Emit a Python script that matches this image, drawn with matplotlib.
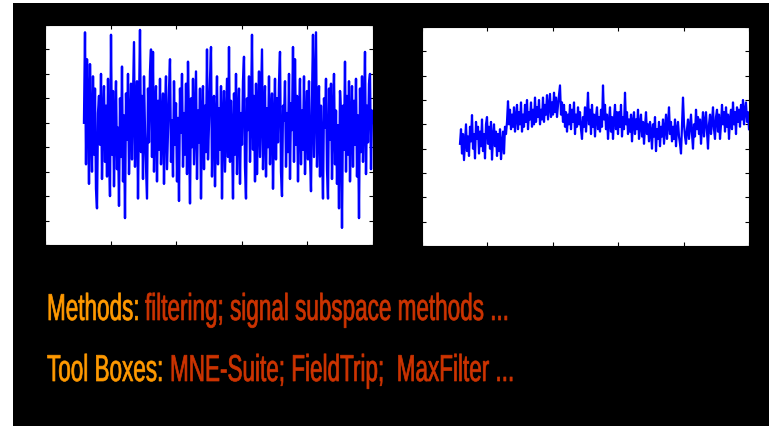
import matplotlib
matplotlib.use("Agg")
import matplotlib.pyplot as plt
from matplotlib.patches import Rectangle
from matplotlib.patheffects import AbstractPathEffect
from matplotlib.transforms import Affine2D
import numpy as np

W, H = 769, 427

# raw trace, left panel (one sample per step, starts part-way into the window)
left_values = [
    0.5, 4.2, -1.2, 3.1, 1.5, -2.0, 2.9, 0.2, -1.5, 2.4,
    -0.8, 1.9, -2.2, -3.0, 0.9, 1.6, -0.4, 2.5, -1.8, 0.7,
    2.0, -1.1, 1.2, -1.7, 2.3, -0.5, -2.5, 4.1, -0.8, 1.8,
    -2.1, 0.6, 2.2, -1.4, 0.3, -2.9, 1.5, -0.9, 2.8, -1.9,
    0.8, -3.4, 1.7, -0.2, 2.5, -1.6, 0.4, 2.1, -1.0, 1.3,
    3.8, -1.3, 0.9, 2.2, -2.6, 1.1, 4.3, -0.7, 1.6, -1.8,
    2.4, 0.1, -1.2, -2.6, 1.9, -0.3, 2.6, 3.5, -0.9, 3.4,
    -1.5, 0.8, 2.0, -1.9, 1.4, -0.6, 2.3, -1.2, 0.5, 1.7,
    -2.0, 0.9, 2.4, -1.4, 0.2, 1.8, 3.1, -1.1, 0.6, -1.7,
    2.2, -0.4, 1.3, -1.9, 0.7, -2.7, 1.9, 0.1, 2.5, -1.3,
    0.9, -0.8, 2.1, -1.6, 3.0, 0.4, -2.8, 1.5, -0.5, 2.3,
    -1.2, 0.6, 2.6, -1.8, 1.0, -0.3, 1.9, -2.6, 0.8, 2.0,
    -1.4, 1.2, -0.7, 3.5, -1.0, 0.5, 2.2, 3.6, -1.7, 0.9,
    1.6, -2.1, 0.3, 2.4, -1.2, 1.1, -0.6, 2.0, -2.6, 0.7,
    1.8, -1.5, 0.4, 2.3, -0.9, 3.6, -1.1, 1.4, 0.1, -2.6,
    1.7, -0.8, 2.5, -1.6, 0.6, 1.9, -2.0, 0.9, -0.4, 2.2,
    3.2, -1.3, -2.6, 1.5, 0.2, 2.4, -1.1, 0.8, 4.1, -0.6,
    1.6, -1.9, 2.1, -1.6, 0.7, 2.6, -0.9, 1.3, 3.5, -1.4,
    0.5, 2.0, -1.7, 1.1, -0.5, 2.4, -1.2, 0.8, 1.7, -2.2,
    0.4, 2.3, -1.0, 1.5, -0.3, 2.1, 3.4, -1.5, -2.5, 1.2,
    0.6, 2.2, -1.3, 0.9, -0.7, 2.5, -1.8, 1.3, 0.2, 3.6,
    -1.1, 3.1, -0.4, 1.6, -1.9, 0.8, 2.3, -1.2, 1.0, -0.6,
    2.4, -1.6, 0.5, 1.8, -1.0, 2.2, -0.8, -2.3, 1.4, 4.1,
    -0.9, 1.7, 4.2, -1.3, 0.6, 2.0, -1.7, 1.2, -0.5, -2.6,
    1.5, 0.3, 2.3, -1.4, -2.6, 1.9, -0.2, 2.1, -1.8, 0.7,
    2.5, -1.2, 1.0, -2.0, 0.4, -3.0, 1.8, 0.9, -3.8, 1.2,
    -0.6, 3.0, -1.5, 1.6, -0.8, 2.2, -1.9, 0.5, 2.0, -1.3,
    1.4, -0.4, 2.3, -1.7, 0.8, -3.4, 1.9, -0.7, 2.4, -1.1,
    0.6, 3.4, -1.6, 1.2, -0.3, 2.1, 2.5, -1.4, 1.0, 0.5,
]

# filtered trace, right panel
right_values = [
    -0.3, 0.3, -0.7, 0.1, -0.97, -0.2, 0.5, -0.6, 0.0, -0.8,
    0.4, -0.2, 0.88, -0.5, 0.1, -0.9, 0.6, -0.1, 0.4, -0.7,
    0.2, -0.4, 0.7, -0.6, 0.1, -0.9, 0.5, 0.8, -0.3, 0.4,
    -0.5, 0.6, -0.95, 0.0, 0.5, -0.4, 0.2, -0.8, 0.1, -0.6,
    0.3, -0.93, -0.3, 0.2, -0.7, 0.4, 0.1, 0.6, 1.45, 0.5,
    1.1, 0.3, 0.9, 0.4, 1.2, 0.2, 0.8, 1.3, 0.3, 1.0,
    0.5, 1.4, 0.2, 0.9, 0.4, 1.3, 0.6, 1.5, 0.3, 1.0,
    0.7, 1.4, 0.4, 1.1, 0.5, 1.6, 0.6, 1.2, 0.8, 1.5,
    0.5, 1.1, 0.7, 1.6, 0.6, 1.3, 0.9, 1.7, 0.7, 1.2,
    1.75, 0.8, 1.4, 0.9, 1.8, 1.0, 1.6, 0.8, 1.3, 1.7,
    2.1, 0.9, 1.4, 0.6, 1.3, 0.4, 1.0, 0.2, 0.9, 0.5,
    1.3, 0.3, 1.1, 0.6, 1.4, 0.1, 0.9, 0.4, 1.2, 0.5,
    1.0, 0.3, -0.1, 0.8, 0.4, 1.2, 0.2, 0.9, 1.8, 0.5,
    1.1, 0.1, 1.3, 0.4, 0.9, 0.0, 0.8, 1.2, 0.3, 0.8,
    0.2, 1.1, 0.4, 2.1, 0.7, 1.3, 0.3, 0.9, -0.1, 0.6,
    1.2, 0.2, 0.8, -0.1, 0.7, 1.3, 0.3, 1.0, 0.1, 1.0,
    0.4, 1.3, 0.0, 0.8, 0.3, 1.8, 0.5, 1.0, 0.1, 0.7,
    0.2, 0.9, -0.2, 0.6, 1.0, 0.1, 0.7, 0.3, 1.1, -0.1,
    0.5, 0.9, 0.0, 0.6, -0.3, 0.4, 1.0, 0.1, 0.5, -0.2,
    0.6, 0.2, -0.5, 0.5, 0.0, 0.8, -0.6, 0.3, -0.1, 0.6,
    -0.4, 0.4, 0.0, 0.7, -0.3, 0.3, 0.9, -0.1, 0.5, 1.2,
    0.1, 0.6, -0.2, 0.4, -0.1, 0.7, -0.4, 0.3, 0.6, 0.0,
    -0.3, -0.7, 0.4, 1.6, 0.5, 0.0, -0.3, 0.3, 0.7, -0.1,
    0.4, 0.9, 0.1, -0.5, 0.5, 0.0, 1.1, 0.3, 0.8, 0.1,
    0.7, -0.3, 0.4, 1.0, 0.0, 0.6, 1.0, 0.2, -0.5, 0.5,
    0.9, 0.1, 0.6, 1.2, 0.3, -0.1, 0.8, 1.1, 0.2, 0.9,
    -0.1, 0.5, 1.3, 0.5, 1.0, 0.2, 1.2, 0.4, 0.9, -0.1,
    0.7, 1.1, 0.3, 1.4, 0.5, 1.0, 0.1, 1.2, 0.6, 1.1,
    0.4, 1.3, 0.7, 1.5, 0.5, 1.1, 1.4, 0.6, 1.0, 0.3,
]

left_start = 39      # first sample inside the 328-sample window
right_start = 38     # first sample inside the 327-sample window
left_window = 328
right_window = 327

line1_label = "Methods:"
line1_text = "filtering; signal subspace methods ..."
line2_label = "Tool Boxes:"
line2_text = "MNE-Suite; FieldTrip;  MaxFilter ..."

LABEL_COLOR = "#FF9900"
TEXT_COLOR = "#CC3300"
TRACE_COLOR = "#0000FF"

plt.rcParams["font.family"] = ["Liberation Sans", "DejaVu Sans"]


class Squeeze(AbstractPathEffect):
    """Draw glyphs horizontally condensed (the slide font is a narrow face)."""

    def __init__(self, sx, stroke=0.0):
        super().__init__()
        self.sx = sx
        self.stroke = stroke

    def draw_path(self, renderer, gc, tpath, affine, rgbFace=None):
        gc0 = renderer.new_gc()
        gc0.copy_properties(gc)
        if self.stroke and rgbFace is not None:
            gc0.set_linewidth(self.stroke)
            gc0.set_foreground(rgbFace)
        renderer.draw_path(gc0, tpath, Affine2D().scale(self.sx, 1.0) + affine, rgbFace)
        gc0.restore()


fig = plt.figure(figsize=(W / 100, H / 100), dpi=100, facecolor="white")

# black slide background
fig.patches.append(Rectangle((13 / W, 0), 1 - 13 / W, (H - 4) / H,
                             transform=fig.transFigure, facecolor="black",
                             edgecolor="none", zorder=-10))


def px_axes(x0, y0, x1, y1):
    return fig.add_axes([x0 / W, 1 - y1 / H, (x1 - x0) / W, (y1 - y0) / H])


def style_axes(ax, window):
    ax.set_facecolor("white")
    ax.set_xlim(0, window)
    ax.set_ylim(-4.5, 4.5)
    ax.set_xticks(np.linspace(0, window, 6))
    ax.set_yticks(np.linspace(-4.5, 4.5, 10))
    ax.tick_params(direction="in", length=3, width=0.8, color="black",
                   top=True, right=True, labelleft=False, labelbottom=False)
    for sp in ax.spines.values():
        sp.set_color("black")
        sp.set_linewidth(0.8)


ax1 = px_axes(45, 26, 373, 246)
t_left = left_start + np.arange(len(left_values))
ax1.plot(t_left, left_values, color=TRACE_COLOR, lw=1.7)
style_axes(ax1, left_window)

ax2 = px_axes(422, 28, 749, 247)
t_right = right_start + np.arange(len(right_values))
ax2.plot(t_right, right_values, color=TRACE_COLOR, lw=1.6)
style_axes(ax2, right_window)

fs = 27
squeeze = [Squeeze(0.6, stroke=0.5)]
for x, y, s, c in [(47, 321, line1_label, LABEL_COLOR),
                   (145, 321, line1_text, TEXT_COLOR),
                   (47, 382, line2_label, LABEL_COLOR),
                   (170, 382, line2_text, TEXT_COLOR)]:
    fig.text(x / W, 1 - y / H, s, color=c, fontsize=fs,
             va="baseline", ha="left", path_effects=squeeze)

fig.savefig("out.png", dpi=100, facecolor=fig.get_facecolor())
